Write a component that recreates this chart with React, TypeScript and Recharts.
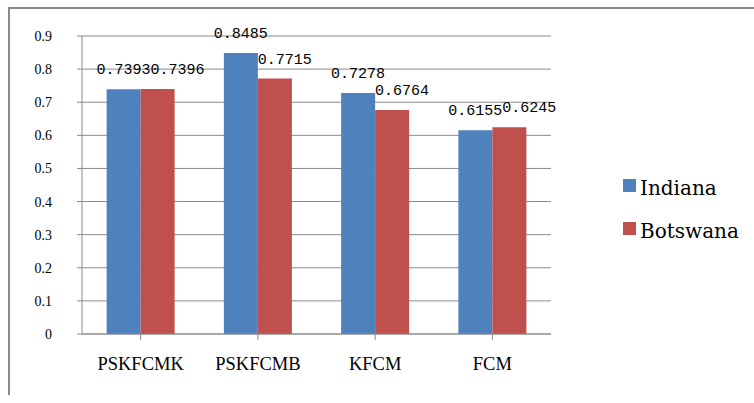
import { Bar, BarChart, CartesianGrid, LabelList, XAxis, YAxis } from 'recharts';

// values as printed on the bars
const CATEGORIES = ['PSKFCMK', 'PSKFCMB', 'KFCM', 'FCM'];
const INDIANA = [0.7393, 0.8485, 0.7278, 0.6155];
const BOTSWANA = [0.7396, 0.7715, 0.6764, 0.6245];
const Y_TICKS = [0, 0.1, 0.2, 0.3, 0.4, 0.5, 0.6, 0.7, 0.8, 0.9];

const SERIES = [
  { key: 'indiana', name: 'Indiana', color: '#4F81BD' },
  { key: 'botswana', name: 'Botswana', color: '#C0504D' },
];

const data = CATEGORIES.map((c, i) => ({
  name: c,
  indiana: INDIANA[i],
  botswana: BOTSWANA[i],
}));

const AXIS = '#8a8a8a';
const SERIF = '"Liberation Serif", "Times New Roman", "DejaVu Serif", serif';
const MONO = '"Liberation Mono", "DejaVu Sans Mono", monospace';
const CHAR_W = 9; // mono 15px

// Excel-ish label placement: Indiana centred, Botswana starts at its bar
// and gets pushed right when it would run into the Indiana label.
function ValueLabel(props: any) {
  const { x, y, width, value, index, series } = props;
  const text = String(value);
  const w = text.length * CHAR_W;
  let tx = x + width / 2 - w / 2;
  if (series === 'botswana') {
    tx = x;
    const other = INDIANA[index];
    if (Math.abs(other - BOTSWANA[index]) < 0.03) {
      const otherEnd = x - width / 2 + w / 2;
      tx = Math.max(tx, otherEnd);
    }
  }
  return (
    <text x={tx} y={y - 15} fill="#000" fontSize={15} fontFamily={MONO} textAnchor="start">
      {text}
    </text>
  );
}

export default function App() {
  return (
    <div style={{ position: 'absolute', left: 0, top: 0, width: 754, height: 403, background: '#fff' }}>
      <div style={{ position: 'absolute', left: 8, top: 7, width: 746, height: 2, background: AXIS }} />
      <div style={{ position: 'absolute', left: 8, top: 7, width: 2, height: 388, background: AXIS }} />
      <div style={{ position: 'absolute', left: 0, top: 0 }}>
        <BarChart
          width={754}
          height={403}
          data={data}
          margin={{ top: 36, right: 203, bottom: 29, left: 22 }}
          barGap={0}
          barCategoryGap="21%"
        >
          <CartesianGrid vertical={false} stroke={AXIS} />
          <XAxis
            dataKey="name"
            height={40}
            stroke={AXIS}
            tickSize={6}
            tickMargin={17}
            tick={{ fill: '#000', fontSize: 18.5, fontFamily: SERIF }}
          />
          <YAxis
            width={60}
            domain={[0, 0.9]}
            ticks={Y_TICKS}
            stroke={AXIS}
            tickSize={5}
            tickMargin={25}
            tick={{ fill: '#000', fontSize: 14, fontFamily: SERIF }}
          />
          {SERIES.map((s) => (
            <Bar key={s.key} dataKey={s.key} name={s.name} fill={s.color} isAnimationActive={false}>
              <LabelList dataKey={s.key} content={(p: any) => <ValueLabel {...p} series={s.key} />} />
            </Bar>
          ))}
        </BarChart>
      </div>
      <svg width={140} height={90} style={{ position: 'absolute', left: 614, top: 165 }}>
        {SERIES.map((s, i) => (
          <g key={s.key} transform={`translate(0, ${i * 43})`}>
            <rect x={9} y={14} width={13} height={13} fill={s.color} />
            <text x={26} y={30} fill="#000" fontSize={20} fontFamily='"DejaVu Serif", serif'>
              {s.name}
            </text>
          </g>
        ))}
      </svg>
    </div>
  );
}
